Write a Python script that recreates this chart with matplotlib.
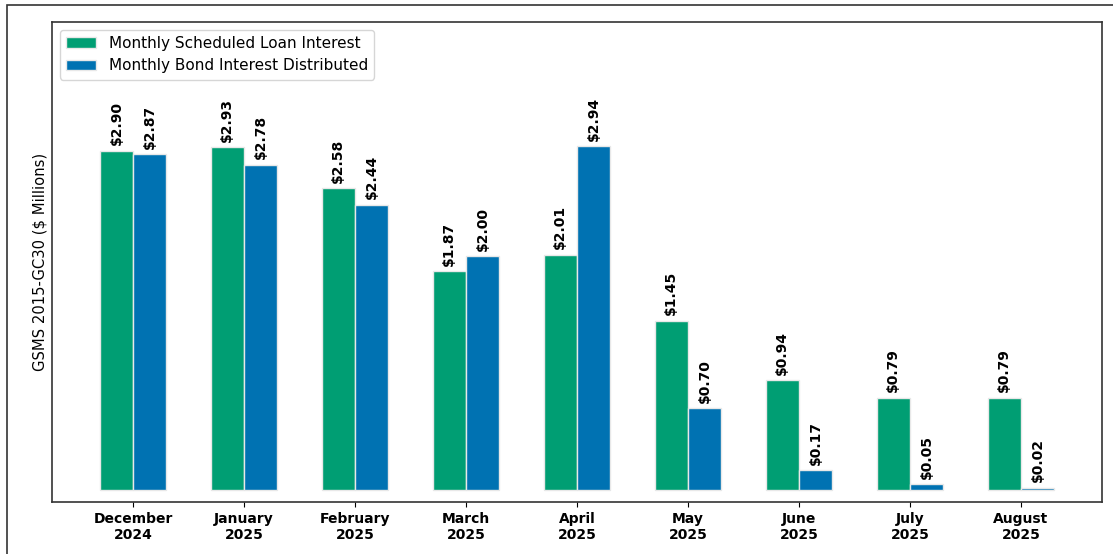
import matplotlib
matplotlib.use("Agg")
import matplotlib.pyplot as plt
from matplotlib.patches import Rectangle
import numpy as np

months = ["December\n2024", "January\n2025", "February\n2025", "March\n2025", "April\n2025",
          "May\n2025", "June\n2025", "July\n2025", "August\n2025"]
loan_interest = [2.90, 2.93, 2.58, 1.87, 2.01, 1.45, 0.94, 0.79, 0.79]
bond_interest = [2.87, 2.78, 2.44, 2.00, 2.94, 0.70, 0.17, 0.05, 0.02]
series_names = ["Monthly Scheduled Loan Interest", "Monthly Bond Interest Distributed"]
colors = ["#009E73", "#0072B2"]

fig = plt.figure(figsize=(11.13, 5.54), dpi=100)
ax = fig.add_axes([52/1113, 1 - 502/554, (1102-52)/1113, (502-22)/554])

x = np.arange(len(months))
w = 0.3
b1 = ax.bar(x - w/2, loan_interest, w, color=colors[0], edgecolor="#e8e8e8", linewidth=1, label=series_names[0])
b2 = ax.bar(x + w/2, bond_interest, w, color=colors[1], edgecolor="#e8e8e8", linewidth=1, label=series_names[1])

for bars, vals in ((b1, loan_interest), (b2, bond_interest)):
    for bar, v in zip(bars, vals):
        ax.annotate(f"${v:.2f}", (bar.get_x() + bar.get_width()/2, bar.get_height()),
                    xytext=(0, 4), textcoords="offset points", rotation=90,
                    ha="center", va="bottom", fontsize=10, fontweight="bold")

ax.set_xlim(-0.73, 8.73)
ax.set_ylim(-0.1, 4.0)
ax.set_xticks(x)
ax.set_xticklabels(months, fontweight="bold", fontsize=10)
ax.set_yticks([])
ax.set_ylabel("GSMS 2015-GC30 ($ Millions)", fontsize=10.6, labelpad=3)
for s in ax.spines.values():
    s.set_color("#333333")
    s.set_linewidth(1.2)
ax.legend(loc="upper left", fontsize=11, framealpha=0.8)

fig.patches.append(Rectangle((7/1113, -0.1), 1.2, 1.1 - 5/554, transform=fig.transFigure,
                             fill=False, edgecolor="#333333", linewidth=1.2, clip_on=False))

fig.savefig("out.png", dpi=100)
